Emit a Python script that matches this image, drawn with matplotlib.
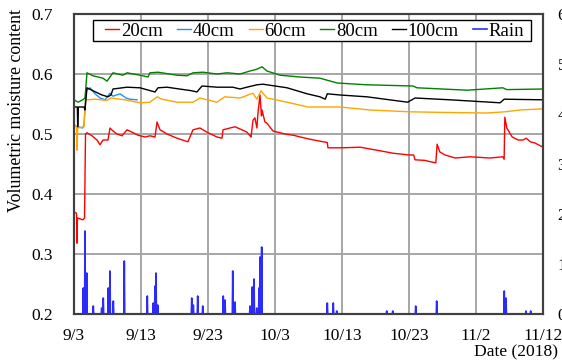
import matplotlib
matplotlib.use("Agg")
import matplotlib.pyplot as plt
from matplotlib.patches import Rectangle
import numpy as np

plt.rcParams['font.family'] = ['Liberation Serif', 'DejaVu Serif']

# x values are days after 9/3/2018
tick_days = [0, 10, 20, 30, 40, 50, 60, 70]
tick_labels = ["9/3", "9/13", "9/23", "10/3", "10/13", "10/23", "11/2", "11/12"]

d20 = [0, 0.37, 0.45, 0.52, 1.34, 1.57, 1.72, 1.94, 2.69, 3.43, 3.88, 4.33, 5.07, 5.37, 5.82, 6.42,
       7.16, 7.91, 8.66, 9.55, 10.6, 11.34, 12.09, 12.39, 12.84, 13.88, 15.37, 17.0, 17.76, 18.8,
       19.85, 21.34, 22.09, 22.24, 23.28, 24.03, 25.07, 25.82, 26.27, 26.42, 26.72, 27.0, 27.3,
       27.46, 27.76, 27.98, 28.06, 28.5, 28.8, 29.7, 31.5, 32.7, 34.9, 37.2, 37.8, 37.9, 40.0,
       42.7, 45.7, 47.6, 50.1, 50.7, 50.9, 52.4, 53.1, 54.0, 54.2, 54.6, 55.4, 56.9, 59.1, 62.1,
       64.0, 64.2, 64.3, 64.6, 65.4, 66.3, 67.0, 67.5, 68.1, 68.8, 70.0]
v20 = [0.37, 0.368, 0.318, 0.36, 0.357, 0.36, 0.50, 0.502, 0.497, 0.49, 0.482, 0.49, 0.49, 0.51,
       0.505, 0.50, 0.497, 0.507, 0.503, 0.498, 0.495, 0.497, 0.495, 0.52, 0.507, 0.50, 0.493,
       0.487, 0.507, 0.51, 0.503, 0.495, 0.493, 0.507, 0.51, 0.512, 0.507, 0.503, 0.497, 0.495,
       0.523, 0.527, 0.51, 0.535, 0.565, 0.53, 0.54, 0.52, 0.518, 0.505, 0.50, 0.498, 0.492,
       0.487, 0.486, 0.477, 0.477, 0.478, 0.472, 0.468, 0.465, 0.465, 0.457, 0.456, 0.454, 0.452,
       0.483, 0.47, 0.465, 0.46, 0.462, 0.46, 0.462, 0.458, 0.528, 0.51, 0.495, 0.49, 0.49, 0.493,
       0.487, 0.485, 0.478]

d40 = [0, 0.55, 1.3, 1.49, 1.79, 2.39, 3.13, 3.88, 4.63, 5.37, 5.82, 6.87, 7.76, 8.36, 9.4]
v40 = [0.515, 0.512, 0.51, 0.515, 0.572, 0.577, 0.567, 0.56, 0.557, 0.568, 0.563, 0.567, 0.56,
       0.558, 0.557]

d60 = [0, 0.37, 0.45, 0.55, 1.49, 1.72, 1.94, 3.13, 4.93, 5.52, 7.61, 9.85, 11.34, 12.39, 13.13,
       15.37, 17.76, 18.8, 19.5, 21.34, 22.5, 24.78, 26.7, 27.3, 27.9, 28.8, 31.8, 34.9, 39.7,
       44.2, 50.1, 55.0, 61.6, 64.3, 66.6, 70.0]
v60 = [0.515, 0.513, 0.473, 0.51, 0.512, 0.555, 0.557, 0.558, 0.556, 0.56, 0.557, 0.552, 0.553,
       0.562, 0.558, 0.553, 0.553, 0.56, 0.558, 0.553, 0.562, 0.56, 0.568, 0.558, 0.572, 0.56,
       0.553, 0.545, 0.545, 0.54, 0.537, 0.536, 0.535, 0.537, 0.54, 0.542]

d80 = [0, 0.6, 1.3, 1.64, 1.94, 2.84, 4.33, 4.93, 5.37, 5.82, 7.3, 7.91, 9.85, 11.04, 11.34,
       12.54, 15.37, 16.87, 17.76, 19.25, 21.34, 22.84, 24.78, 26.27, 27.3, 28.06, 28.8, 30.75,
       33.7, 36.7, 39.3, 43.7, 50.6, 51.2, 58.7, 64.0, 64.6, 70.0]
v80 = [0.557, 0.553, 0.557, 0.56, 0.602, 0.597, 0.593, 0.588, 0.595, 0.602, 0.598, 0.602, 0.598,
       0.595, 0.602, 0.603, 0.598, 0.597, 0.602, 0.603, 0.60, 0.602, 0.60, 0.605, 0.608, 0.612,
       0.605, 0.598, 0.595, 0.593, 0.585, 0.582, 0.58, 0.577, 0.573, 0.577, 0.574, 0.575]

d100 = [0, 0.5, 0.55, 0.65, 1.5, 1.64, 1.94, 2.84, 4.18, 5.07, 5.52, 5.82, 7.91, 9.85, 12.09,
        12.54, 13.88, 17.6, 18.35, 19.1, 21.34, 22.5, 23.7, 24.78, 25.8, 27.3, 28.2, 31.8, 34.8,
        36.7, 37.5, 37.8, 39.7, 43.7, 49.8, 50.9, 56.1, 63.6, 64.2, 70.0]
v100 = [0.545, 0.545, 0.512, 0.545, 0.545, 0.54, 0.577, 0.572, 0.565, 0.562, 0.565, 0.575, 0.578,
        0.577, 0.57, 0.577, 0.578, 0.572, 0.57, 0.58, 0.578, 0.578, 0.578, 0.575, 0.578, 0.582,
        0.583, 0.577, 0.567, 0.562, 0.558, 0.567, 0.565, 0.562, 0.553, 0.56, 0.557, 0.552, 0.558,
        0.557]

rain_days = [1.39, 1.64, 1.9, 2.88, 4.13, 4.37, 5.12, 5.37, 5.87, 7.51, 10.94, 11.84, 12.09, 12.24,
             12.49, 17.57, 17.81, 18.46, 19.21, 22.28, 22.54, 23.69, 24.03, 26.27, 26.61, 26.87,
             27.27, 27.61, 27.76, 28.01, 37.81, 38.7, 39.21, 46.67, 47.57, 51.0, 54.13, 64.22,
             64.48, 67.46, 68.16]
rain_mm = [0.52, 1.66, 0.82, 0.16, 0.12, 0.32, 0.52, 0.86, 0.26, 1.06, 0.36, 0.22, 0.56, 0.82,
           0.18, 0.32, 0.18, 0.36, 0.16, 0.36, 0.28, 0.86, 0.24, 0.16, 0.54, 0.70, 0.12, 0.52,
           1.14, 1.34, 0.22, 0.22, 0.06, 0.06, 0.06, 0.16, 0.26, 0.46, 0.32, 0.06, 0.06]

# build rain line: zero baseline between spikes
hw = 0.06
rx, ry = [0.0], [0.0]
for i, (d, v) in enumerate(zip(rain_days, rain_mm)):
    prev = rain_days[i - 1] if i > 0 else -10
    nxt = rain_days[i + 1] if i < len(rain_days) - 1 else 100
    if d - prev > 2 * hw:
        rx.append(d - hw); ry.append(0.0)
    rx.append(d); ry.append(v)
    if nxt - d > 2 * hw:
        rx.append(d + hw); ry.append(0.0)
rx.append(70.0); ry.append(0.0)

W, H = 562, 362
fig = plt.figure(figsize=(W / 100, H / 100), dpi=100)
ax = fig.add_axes([74 / W, 1 - 314 / H, (543 - 74) / W, 300 / H])
ax2 = ax.twinx()

grid_c = '#A6A6A6'
for t in [0.3, 0.4, 0.5, 0.6]:
    ax.axhline(t, color=grid_c, lw=1.4, zorder=0)
for t in tick_days[1:-1]:
    ax.axvline(t, color=grid_c, lw=1.4, zorder=0)

l1, = ax.plot(d20, v20, color='#FF0000', lw=1.0, label='20cm')
l2, = ax.plot(d40, v40, color='#1E90FF', lw=1.0, label='40cm')
l3, = ax.plot(d60, v60, color='#FFA500', lw=1.0, label='60cm')
l4, = ax.plot(d80, v80, color='#008000', lw=1.0, label='80cm')
l5, = ax.plot(d100, v100, color='#000000', lw=1.0, label='100cm')
l6, = ax2.plot(rx, ry, color='#2B2BFF', lw=1.2, label='Rain', clip_on=False)

ax.set_xlim(0, 70)
ax.set_ylim(0.2, 0.7)
ax2.set_ylim(0, 6)
ax.set_xticks(tick_days)
ax.set_xticklabels(tick_labels)
ax.set_yticks([0.2, 0.3, 0.4, 0.5, 0.6, 0.7])
ax.set_yticklabels(['0.2', '0.3', '0.4', '0.5', '0.6', '0.7'])
ax2.set_yticks([0, 1, 2, 3, 4, 5, 6])

ax.tick_params(axis='both', length=0, labelsize=12.5)
ax.tick_params(axis='y', pad=15)
ax.tick_params(axis='x', pad=10)
ax2.tick_params(axis='y', length=0, labelsize=12.5, pad=10.5)

for a in (ax, ax2):
    for s in a.spines.values():
        s.set_color('#404040')
        s.set_linewidth(1.5)

fig.text(17 / W, 1 - 110 / H, 'Volumetric moisture content', rotation=90,
         ha='center', va='center', fontsize=12.9)
fig.text(516 / W, 1 - 352 / H, 'Date (2018)', ha='center', va='center', fontsize=12.6)

# legend (frame drawn separately to match the wide box)
leg = ax2.legend(handles=[l1, l2, l3, l4, l5, l6], ncol=6, loc='center left',
                 bbox_to_anchor=((105 - 74) / 469, 1 - (31 - 14) / 300), fontsize=13.5,
                 frameon=False, borderpad=0.0, handlelength=0.75, handletextpad=0.1,
                 columnspacing=0.75, borderaxespad=0)
leg.set_zorder(6)
frame = Rectangle((93 / W, 1 - 41 / H), (531 - 93) / W, 21 / H, transform=fig.transFigure,
                  facecolor='white', edgecolor='black', lw=1.0, zorder=5)
ax2.add_artist(frame)

fig.savefig('out.png', dpi=100)
